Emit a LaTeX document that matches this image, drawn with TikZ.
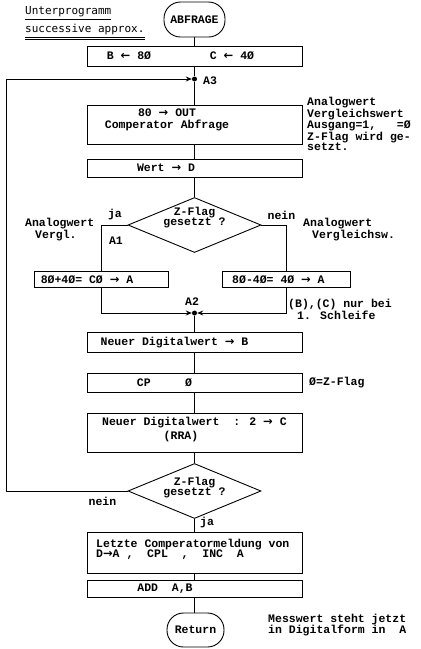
\documentclass[tikz,border=0pt]{standalone}
\usepackage{fontspec}
\setmainfont{Liberation Mono}
\newfontfamily\titlefont{DejaVu Sans Mono}
\newfontfamily\arrfont{DejaVu Sans}
\newcommand\myra{{\arrfont\bfseries →}}
\newcommand\myla{{\arrfont\bfseries ←}}
\usetikzlibrary{shapes.geometric,arrows.meta}
\begin{document}
\begin{tikzpicture}[x=1pt,y=-1pt,
  every node/.style={font=\fontsize{11.5}{10.2}\selectfont\bfseries, inner sep=0pt},
  box/.style={draw, line width=0.9pt, minimum width=215pt},
  term/.style={draw, line width=0.9pt, rounded corners=16.5pt},
  dec/.style={draw, diamond, line width=0.9pt, aspect=2.44, minimum width=133pt, minimum height=55pt},
  conn/.style={line width=1pt},
  arr/.style={line width=1pt, -{Stealth[length=6pt,width=5pt]}},
  jdot/.style={circle, fill, minimum size=5pt},
  ttl/.style={anchor=west, font=\titlefont\fontsize{11}{11}\selectfont}
]
\fill[white] (0,0) rectangle (421,649);
\useasboundingbox (0,0) rectangle (421,649);

% title
\node[ttl] (t1) at (25,12) {Unterprogramm};
\node[ttl] (t2) at (25,29.5) {successive approx.};
\draw[line width=0.8pt] ([yshift=-2pt]t1.south west) -- ([yshift=-2pt]t1.south east);
\draw[line width=0.8pt] ([yshift=-2pt]t2.south west) -- ([yshift=-2pt]t2.south east);
\draw[line width=0.8pt] ([yshift=-4pt]t2.south west) -- ([yshift=-4pt]t2.south east);

% start
\node[term, minimum width=61pt, minimum height=35pt] (start) at (194.5,19.5) {ABFRAGE};
\node[box, minimum height=20pt] (init) at (194.5,56) {};
\node (initB) at (129,56) {B \myla{} 8Ø};
\node (initC) at (232,56) {C \myla{} 4Ø};

\node[jdot] (a3) at (194.5,79) {};
\node[anchor=west] (a3l) at (203,81) {A3};

\node[box, minimum height=39pt] (out) at (194.5,124.5) {};
\node[align=center] (outt) at (167,120) {80 \myra{} OUT\\[1.5pt]Comperator Abfrage};
\node[anchor=west, align=left] (ann1) at (307,124) {Analogwert\\Vergleichswert\\Ausgang=1,~~~=Ø\\Z-Flag wird ge-\\setzt.};

\node[box, minimum height=18pt] (wert) at (194.5,168) {};
\node (wertt) at (166,168) {Wert \myra{} D};

% decision 1
\node[dec] (d1) at (194.5,225) {};
\node[align=center] (d1t) at (194.5,217.5) {Z-Flag\\gesetzt ?};
\node (ja1) at (115,215) {ja};
\node (nein1) at (281.5,215) {nein};
\node[anchor=west, align=left] (annL) at (25,229.5) {Analogwert\\\hspace*{10pt}Vergl.};
\node[anchor=west, align=left] (annR) at (303,229.5) {Analogwert\\\hspace*{9pt}Vergleichsw.};
\node (a1l) at (116,241) {A1};

\node[draw, line width=0.9pt, minimum width=134pt, minimum height=16pt] (lb) at (101,279.5) {};
\node (lbt) at (87,279.5) {8Ø+4Ø= CØ \myra{} A};
\node[draw, line width=0.9pt, minimum width=128pt, minimum height=16pt] (rb) at (286,279.5) {};
\node[anchor=west] (rbt) at (232,279.5) {8Ø-4Ø= 4Ø \myra{} A};

\node[jdot] (a2) at (194.5,313) {};
\node (a2l) at (192,302) {A2};
\node[anchor=west, align=left] (annB) at (288,309) {(B),(C) nur bei\\\hspace*{9pt}1. Schleife};

\node[box, minimum height=20pt] (ndb) at (194.5,342) {};
\node (ndbt) at (174.5,343) {Neuer Digitalwert \myra{} B};

\node[box, minimum height=19pt] (cp) at (194.5,382.5) {};
\node (cpt) at (164.5,383) {CP~~~~~Ø};
\node[anchor=west] (annZ) at (309,383) {Ø=Z-Flag};

\node[box, minimum height=39pt] (rra) at (194.5,432.5) {};
\node[anchor=west] (rra1) at (102,423) {Neuer Digitalwert~~: 2 \myra{} C};
\node (rra2) at (181,437) {(RRA)};

% decision 2
\node[dec] (d2) at (194.5,491) {};
\node[align=center] (d2t) at (194.5,487.5) {Z-Flag\\gesetzt ?};
\node (nein2) at (102.5,501) {nein};
\node[anchor=west] (ja2) at (200,523) {ja};
\coordinate (loop) at (6,491);

\node[box, minimum height=41pt] (last) at (194.5,552.5) {};
\node[anchor=west, align=left] (lastt) at (96,549) {Letzte Comperatormeldung von\\D\myra{}A~,~~CPL~~,~~INC~~A};

\node[box, minimum height=17pt] (add) at (194.5,588.5) {};
\node (addt) at (165,588.5) {ADD~~A,B};

\node[term, minimum width=57pt, minimum height=34pt] (ret) at (195.5,630) {Return};
\node[anchor=west, align=left] (annM) at (268,625) {Messwert steht jetzt\\in Digitalform in~~A};

% connectors
\draw[conn] (start) -- (init);
\draw[conn] (init) -- (a3);
\draw[conn] (a3) -- (out);
\draw[conn] (out) -- (wert);
\draw[conn] (wert) -- (d1);
\draw[conn] (d1.west) -| (lb.north);
\draw[conn] (d1.east) -| (rb.north);
\draw[arr] (lb.south) |- (a2.west);
\draw[arr] (rb.south) |- (a2.east);
\draw[conn] (a2) -- (ndb);
\draw[conn] (ndb) -- (cp);
\draw[conn] (cp) -- (rra);
\draw[conn] (rra) -- (d2);
\draw[conn] (d2) -- (last);
\draw[conn] (last) -- (add);
\draw[conn] (add.south) -- (add.south |- ret.north);
\draw[arr] (d2.west) -- (loop) |- (a3.west);
\end{tikzpicture}
\end{document}
